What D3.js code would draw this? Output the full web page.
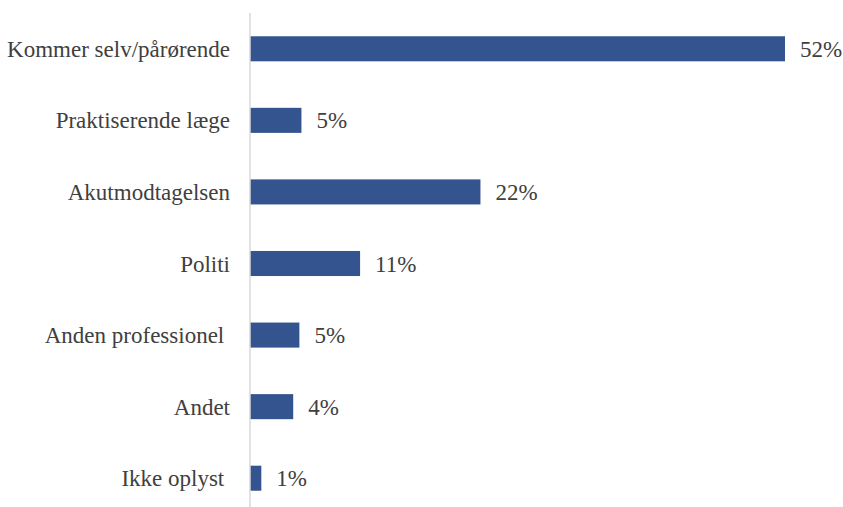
<!DOCTYPE html>
<html>
<head>
<meta charset="utf-8">
<script src="https://cdn.jsdelivr.net/npm/d3@7"></script>
<style>
  body { margin: 0; background: #fff; }
  text { font-family: "Liberation Serif", "Times New Roman", serif; fill: #404040; }
</style>
</head>
<body>
<div id="chart"></div>
<script>
var categories = ["Kommer selv/pårørende", "Praktiserende læge", "Akutmodtagelsen", "Politi", "Anden professionel ", "Andet", "Ikke oplyst "];
var values = [52.0, 5.0, 22.4, 10.7, 4.8, 4.2, 1.1];

var width = 843, height = 507;
var x0 = 250;

var svg = d3.select("#chart")
    .append("svg")
    .attr("width", width)
    .attr("height", height);

var x = d3.scaleLinear()
    .domain([0, 52])
    .range([x0, 785]);

var y = d3.scaleBand()
    .domain(categories)
    .range([13, 514])
    .paddingInner(0.65)
    .paddingOuter(0.325);

var data = categories.map(function(c, i) { return { name: c, value: values[i] }; });

// bars
svg.selectAll("rect.bar")
    .data(data)
    .enter().append("rect")
    .attr("class", "bar")
    .attr("x", x(0))
    .attr("y", function(d) { return y(d.name); })
    .attr("width", function(d) { return x(d.value) - x(0); })
    .attr("height", y.bandwidth())
    .attr("fill", "#34548f");

// axis line
svg.append("line")
    .attr("x1", x0).attr("x2", x0)
    .attr("y1", 13).attr("y2", 514)
    .attr("stroke", "#d9d9d9")
    .attr("stroke-width", 1.5);

// category labels
svg.selectAll("text.cat")
    .data(data)
    .enter().append("text")
    .attr("class", "cat")
    .attr("x", x0 - 20)
    .attr("y", function(d) { return y(d.name) + y.bandwidth() / 2; })
    .attr("dy", "0.35em")
    .attr("text-anchor", "end")
    .attr("xml:space", "preserve")
    .style("white-space", "pre")
    .style("font-size", "23px")
    .text(function(d) { return d.name; });

// value labels
svg.selectAll("text.val")
    .data(data)
    .enter().append("text")
    .attr("class", "val")
    .attr("x", function(d) { return x(d.value) + 15; })
    .attr("y", function(d) { return y(d.name) + y.bandwidth() / 2; })
    .attr("dy", "0.35em")
    .style("font-size", "23px")
    .text(function(d) { return Math.round(d.value) + "%"; });
</script>
</body>
</html>
